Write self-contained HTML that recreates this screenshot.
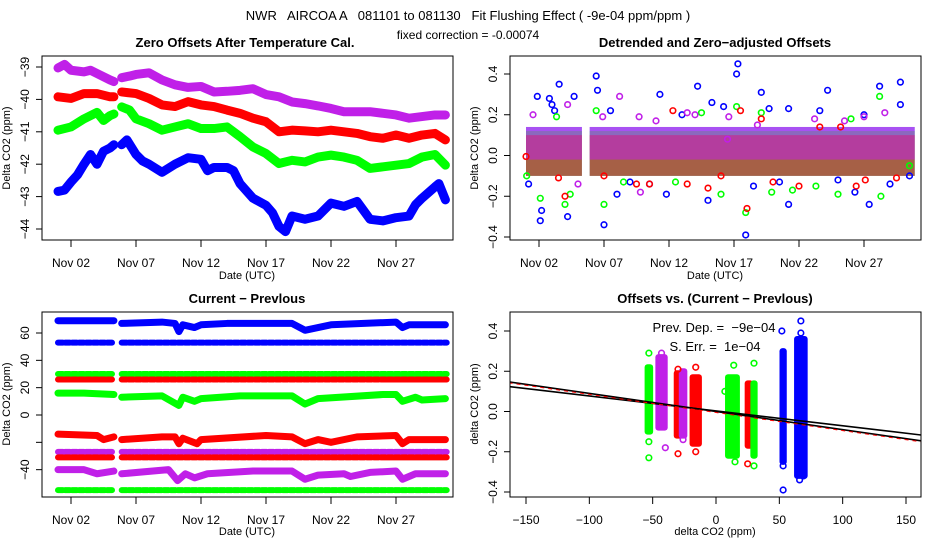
<!DOCTYPE html>
<html><head><meta charset="utf-8"><style>
body{margin:0;background:#fff}
svg{display:block;font-family:"Liberation Sans",sans-serif}
</style></head><body>
<svg id="c" width="936" height="540" viewBox="0 0 936 540">
<text x="468" y="20" font-size="13" text-anchor="middle" style="white-space:pre">NWR   AIRCOA A   081101 to 081130   Fit Flushing Effect ( -9e-04 ppm/ppm )</text>
<text x="468" y="39" font-size="12" text-anchor="middle">fixed correction = -0.00074</text>
</svg>
<script>
const p1PurpleDays=[1,1.5,2,3,3.5,4,5,5.3,null,5.9,6.5,7,8,9,10,11,12,13,14,15,16,17,18,19,20,21,22,23,24,25,26,27,28,29,30,30.8];
const p1PurpleVals=[-39.03,-38.92,-39.1,-39.15,-39.1,-39.2,-39.4,-39.45,null,-39.33,-39.28,-39.23,-39.18,-39.4,-39.55,-39.63,-39.6,-39.77,-39.75,-39.72,-39.67,-39.85,-39.92,-40.08,-40.13,-40.2,-40.28,-40.38,-40.38,-40.38,-40.43,-40.48,-40.58,-40.53,-40.48,-40.48];
const p1RedDays=[1,2,3,4,5,5.3,null,5.9,7,8,9,10,11,12,13,14,15,16,17,18,19,20,21,22,23,24,25,26,27,28,29,30,30.8];
const p1RedVals=[-39.92,-39.97,-39.82,-39.82,-39.92,-39.92,null,-39.77,-39.82,-39.97,-40.17,-40.22,-40.07,-40.17,-40.22,-40.33,-40.43,-40.58,-40.69,-41.0,-40.95,-40.97,-41.0,-40.95,-41.0,-41.05,-41.15,-41.2,-41.1,-41.2,-41.1,-41.05,-41.25];
const p1GreenDays=[1,2,3,4,4.5,5,5.3,null,5.9,6.5,7,8,9,10,11,12,13,14,15,16,17,18,19,20,21,22,23,24,25,26,27,28,29,30,30.8];
const p1GreenVals=[-40.95,-40.85,-40.6,-40.4,-40.65,-40.5,-40.45,null,-40.23,-40.33,-40.6,-40.75,-40.95,-40.85,-40.75,-40.9,-40.9,-40.85,-41.15,-41.47,-41.67,-41.98,-41.88,-41.93,-41.78,-41.72,-41.78,-41.88,-42.13,-42.08,-42.03,-41.98,-41.78,-41.7,-42.03];
const p1BlueDays=[1,1.5,2,2.5,3,3.5,4,4.5,5,5.3,null,5.9,6.3,7,7.5,8,9,10,11,12,12.5,13,14,14.5,15,16,17,17.5,18,18.5,19,20,21,22,23,24,25,26,27,28,28.5,29,30,30.3,30.8];
const p1BlueVals=[-42.84,-42.8,-42.55,-42.33,-42.0,-41.7,-42.0,-41.6,-41.5,-41.4,null,-41.4,-41.25,-41.7,-41.9,-42.0,-42.25,-42.0,-41.8,-41.85,-42.2,-42.1,-42.1,-42.2,-42.6,-43.05,-43.27,-43.5,-43.92,-44.08,-43.6,-43.7,-43.6,-43.2,-43.3,-43.15,-43.7,-43.75,-43.65,-43.6,-43.25,-43.05,-42.7,-42.6,-43.1];
const p1YTicks=[-39,-40,-41,-42,-43,-44];
const dateTicks=[2,7,12,17,22,27];
const dateLabels=["Nov 02","Nov 07","Nov 12","Nov 17","Nov 22","Nov 27"];

const p2Segments=[[1,5.3],[5.9,30.9]];
const p2CoreLo=[-0.1,-0.1,-0.1,-0.02];
const p2CoreHi=[0.14,0.12,0.1,0.14];
const p2BlueOutDays=[1.87,2.1,2.2,3.55,2.8,4.2,4.7,6.4,6.5,7.0,8.0,7.5,11.3,14.2,15.3,16.2,17.3,17.2,17.9,19.1,19.7,21.2,21.2,23.6,24.2,26.3,27.4,28.2,29.8,29.8,11.8,1.2,3.0,3.2,9.0,10.5,13,15,18.5,20.5,25,27,29,30.5];
const p2BlueOutVals=[0.29,-0.32,-0.27,0.35,0.28,-0.3,0.29,0.39,0.32,-0.34,-0.19,0.22,0.3,0.34,0.26,0.24,0.45,0.4,-0.39,0.31,0.23,-0.24,0.23,0.22,0.32,-0.18,-0.24,0.34,0.36,0.25,-0.19,-0.14,0.25,0.22,-0.13,-0.14,0.2,-0.22,-0.15,-0.13,-0.12,0.2,-0.14,-0.1];
const p2GreenOutDays=[3.35,6.4,7.0,2.1,4.0,4.4,17.2,17.9,19.1,19.9,25,28.2,28.3,1.05,23.3,14.5,8.5,12.5,16,21.5,26,30.5];
const p2GreenOutVals=[0.19,0.22,-0.24,-0.21,-0.24,-0.19,0.24,-0.28,0.21,-0.18,-0.19,0.29,-0.2,-0.1,-0.15,0.21,-0.13,-0.13,-0.19,-0.17,0.18,-0.05];
const p2RedOutDays=[4.0,12.3,17.5,18,19.1,22,26.4,1.0,13.4,15,23.6,25.2,27.1,3.5,7,9.5,10.5,16,20,29.5];
const p2RedOutVals=[-0.2,0.22,0.22,-0.26,0.18,-0.15,-0.15,-0.005,-0.14,-0.16,0.14,0.14,-0.12,-0.11,-0.1,-0.14,-0.14,-0.1,-0.13,-0.11];
const p2PurpleOutDays=[1.54,4.2,8.2,6.9,9.8,5.0,9.7,13.4,16.6,23.2,28.6,27,16.5,11,14,18.8,25.5];
const p2PurpleOutVals=[0.2,0.25,0.29,0.19,-0.18,-0.14,0.19,0.21,0.19,0.18,0.21,0.19,0.08,0.17,0.2,0.15,0.17];
const p2YTicks=[0.4,0.2,0.0,-0.2,-0.4];
const p2YLabels=["0.4","0.2","0.0","-0.2","-0.4"];

const p3Blue68Days=[1,5.3,null,5.9,9,10,10.3,10.6,11.5,12,14,19,20,21,22,27,27.5,28,30.8];
const p3Blue68Vals=[69,69,null,67,68,67,61,66,64,66,67,67,62,64,66,68,64,66,66];
const p3Green15Days=[1,3,5.3,null,5.9,9,10.3,10.6,11.5,12,15,19,20,21,26,27,27.5,28.5,29,30.8];
const p3Green15Vals=[16,16,15,null,13,14,7,13,10,12,14,14,8,12,15,15,10,13,11,12];
const p3RedM16Days=[1,4,4.5,5.3,null,5.9,9,10,10.3,10.6,11.7,12,17,19,20,21,22,24,27,27.5,28,30.8];
const p3RedM16Vals=[-14,-15,-18,-16,null,-18,-16,-16,-21,-17,-21,-18,-15,-16,-21,-18,-20,-16,-15,-21,-18,-18];
const p3PurpleM42Days=[1,3,4,5.3,null,5.9,9.5,10.2,10.8,11.5,12.5,16,19,20,21,23,23.5,25,27,27.5,28.5,30.8];
const p3PurpleM42Vals=[-40,-40,-43,-41,null,-43,-40,-48,-43,-46,-43,-41,-41,-47,-44,-43,-45,-42,-41,-47,-43,-43];
const p3FlatLevels=[53,30,26,-27,-31,-55];
const p3FlatColors=["blue","green","red","purple","red","green"];
const p3YTicks=[60,40,20,0,-20,-40];
const p3YLabels=["60","40","20","0","","-40"];

const p4ClusterX=[-53,-43,-30,-26,-16,13,26,30,53,67];
const p4ClusterLo=[-0.1,-0.08,-0.12,-0.12,-0.16,-0.22,-0.17,-0.22,-0.25,-0.32];
const p4ClusterHi=[0.22,0.27,0.19,0.2,0.17,0.17,0.14,0.14,0.3,0.36];
const p4ClusterW=[2,5,2,2,5,7,2,1,1,6];
const p4ClusterColors=["green","purple","red","purple","red","green","red","green","blue","blue"];
const p4OutX=[-53,-53,-53,-43,-40,-30,-30,-26,-16,-16,7,14,15,25,30,30,52,53,53,66,67,67,69];
const p4OutY=[0.29,-0.15,-0.23,0.29,-0.18,0.21,-0.21,-0.14,0.22,-0.2,0.1,0.23,-0.25,-0.26,0.24,-0.27,0.4,-0.27,-0.39,-0.34,0.39,0.45,-0.32];
const p4OutColors=["green","green","green","purple","purple","red","red","purple","red","red","green","green","green","red","green","green","blue","blue","blue","blue","blue","blue","blue"];
const p4Fit=[-0.0009,0.0];
const p4Fixed=[-0.00074,0.003];
const p4XTicks=[-150,-100,-50,0,50,100,150];
const p4YTicks=[0.4,0.2,0.0,-0.2,-0.4];

const COL={blue:"#0000ff",green:"#00ff00",red:"#ff0000",purple:"#c020e8"};
const NS="http://www.w3.org/2000/svg";
const svg=document.getElementById('c');
function mk(tag,attrs,parent){const e=document.createElementNS(NS,tag);for(const k in attrs)e.setAttribute(k,attrs[k]);(parent||svg).appendChild(e);return e;}
function txt(s,x,y,size,opts,parent){const e=mk('text',Object.assign({x:x,y:y,'font-size':size,'text-anchor':'middle'},opts||{}),parent);e.textContent=s;return e;}
function panel(name){
  const g=mk('g',{});
  
  
  return g;
}
function lin(d0,d1,r0,r1){return v=>r0+(v-d0)*(r1-r0)/(d1-d0);}
function frame(g,box){
  const r=mk('rect',{x:box[0],y:box[1],width:box[2]-box[0],height:box[3]-box[1],fill:'none',stroke:'#000','stroke-width':1},g);
  
  
}
function yAxis(g,box,ys,ticks,labels){
  const ax=mk('g',{},g);
  
  
  const ya=ticks.map(ys);
  mk('line',{x1:box[0],x2:box[0],y1:Math.min(...ya),y2:Math.max(...ya),stroke:'#000'},ax);
  ticks.forEach((t,i)=>{const y=ys(t);
    mk('line',{x1:box[0]-6,x2:box[0],y1:y,y2:y,stroke:'#000'},ax);
    const lab=labels?labels[i]:String(t);
    if(lab!=='') {const e=txt(lab.replace('-','\u2212'),box[0]-13,y,12,{transform:`rotate(-90 ${box[0]-13} ${y})`},ax);
    
    }
  });
}
function xAxis(g,box,xs,ticks,labels){
  const ax=mk('g',{},g);
  
  
  const xa=ticks.map(xs);
  mk('line',{x1:Math.min(...xa),x2:Math.max(...xa),y1:box[3],y2:box[3],stroke:'#000'},ax);
  ticks.forEach((t,i)=>{const x=xs(t);
    mk('line',{x1:x,x2:x,y1:box[3],y2:box[3]+7,stroke:'#000'},ax);
    const e=txt(labels?labels[i]:String(t).replace('-','\u2212'),x,box[3]+27,12,{},ax);
    
    
  });
}
function band(g,days,vals,xs,ys,color,w,dash,name){
  let segs=[],cur=[];
  days.forEach((d,i)=>{if(d===null){segs.push(cur);cur=[];}else cur.push([xs(d),ys(vals[i])]);});
  segs.push(cur);
  segs.forEach(s=>{
    const p=mk('polyline',{points:s.map(q=>q.join(',')).join(' '),fill:'none',stroke:COL[color],'stroke-width':w,'stroke-linejoin':'round','stroke-linecap':'round'},g);
    if(dash)p.setAttribute('stroke-dasharray',dash);
    
    
  });
}
function circ(g,x,y,color,name){
  const c=mk('circle',{cx:x,cy:y,r:2.8,fill:'none',stroke:COL[color],'stroke-width':1.6},g);
  
  
}

(function(){
  const box=[42,56,453,240];
  const xs=lin(1,2,58,71),ys=lin(-39,-44,67,229);
  const g=panel('zero-offsets-panel');
  band(g,p1PurpleDays,p1PurpleVals,xs,ys,'purple',9,null,'series-purple');
  band(g,p1RedDays,p1RedVals,xs,ys,'red',9,null,'series-red');
  band(g,p1GreenDays,p1GreenVals,xs,ys,'green',9,null,'series-green');
  band(g,p1BlueDays,p1BlueVals,xs,ys,'blue',9,null,'series-blue');
  frame(g,box);yAxis(g,box,ys,p1YTicks);xAxis(g,box,xs,dateTicks,dateLabels);
  let t=txt('Zero Offsets After Temperature Cal.',245,47,13,{'font-weight':'bold'},g);
  t=txt('Date (UTC)',247,279,11,{},g);
  t=txt('Delta CO2 (ppm)',10,148,11,{transform:'rotate(-90 10 148)'},g);
})();

(function(){
  const box=[510,56,921,240];
  const xs=lin(1,2,526,539),ys=lin(0,0.4,155.5,74);
  const g=panel('detrended-panel');
  const colors=['blue','green','red','purple'];
  const ops=[0.45,0.45,0.5,0.55];
  colors.forEach((c,i)=>p2Segments.forEach(s=>{
    const r=mk('rect',{x:xs(s[0]),y:ys(p2CoreHi[i]),width:xs(s[1])-xs(s[0]),height:ys(p2CoreLo[i])-ys(p2CoreHi[i]),fill:COL[c],opacity:ops[i]},g);
    
    
  }));
  p2BlueOutDays.forEach((d,i)=>circ(g,xs(d),ys(p2BlueOutVals[i]),'blue','point-blue'));
  p2GreenOutDays.forEach((d,i)=>circ(g,xs(d),ys(p2GreenOutVals[i]),'green','point-green'));
  p2RedOutDays.forEach((d,i)=>circ(g,xs(d),ys(p2RedOutVals[i]),'red','point-red'));
  p2PurpleOutDays.forEach((d,i)=>circ(g,xs(d),ys(p2PurpleOutVals[i]),'purple','point-purple'));
  frame(g,box);yAxis(g,box,ys,p2YTicks,p2YLabels);xAxis(g,box,xs,dateTicks,dateLabels);
  let t=txt('Detrended and Zero\u2212adjusted Offsets',715,47,13,{'font-weight':'bold'},g);
  t=txt('Date (UTC)',715,279,11,{},g);
  t=txt('Delta CO2 (ppm)',478,148,11,{transform:'rotate(-90 478 148)'},g);
})();

(function(){
  const box=[42,312,453,497];
  const xs=lin(1,2,58,71),ys=lin(0,60,415,333);
  const g=panel('current-minus-previous-panel');
  p3FlatLevels.forEach((v,i)=>{
    band(g,[1,5.3,null,5.9,30.9],[v,v,null,v,v],xs,ys,p3FlatColors[i],6,'5 2','flat-series-'+p3FlatColors[i]);
  });
  band(g,p3Blue68Days,p3Blue68Vals,xs,ys,'blue',7,null,'series-blue-68');
  band(g,p3Green15Days,p3Green15Vals,xs,ys,'green',7,null,'series-green-15');
  band(g,p3RedM16Days,p3RedM16Vals,xs,ys,'red',7,null,'series-red-16');
  band(g,p3PurpleM42Days,p3PurpleM42Vals,xs,ys,'purple',7,null,'series-purple-42');
  frame(g,box);yAxis(g,box,ys,p3YTicks,p3YLabels);xAxis(g,box,xs,dateTicks,dateLabels);
  let t=txt('Current \u2212 Prevlous',247,303,13,{'font-weight':'bold'},g);
  t=txt('Date (UTC)',247,535,11,{},g);
  t=txt('Delta CO2 (ppm)',10,404,11,{transform:'rotate(-90 10 404)'},g);
})();

(function(){
  const box=[510,312,921,497];
  const xs=lin(0,150,716,906),ys=lin(0,0.4,411.5,331);
  const g=panel('offsets-vs-difference-panel');
  p4ClusterX.forEach((x,i)=>{
    const r=mk('rect',{x:xs(x-p4ClusterW[i]/2)-3,y:ys(p4ClusterHi[i])-3,width:xs(x+p4ClusterW[i]/2)-xs(x-p4ClusterW[i]/2)+6,height:ys(p4ClusterLo[i])-ys(p4ClusterHi[i])+6,fill:COL[p4ClusterColors[i]],rx:3},g);
    
    
  });
  p4OutX.forEach((x,i)=>circ(g,xs(x),ys(p4OutY[i]),p4OutColors[i],'outlier-point'));
  const cg=mk('g',{'clip-path':'url(#c4)'},g);
  mk('clipPath',{id:'c4'},g);document.getElementById('c4').appendChild(mk('rect',{x:box[0],y:box[1],width:box[2]-box[0],height:box[3]-box[1]}));
  const x0=-170,x1=170;
  let l=mk('line',{x1:xs(x0),y1:ys(p4Fixed[0]*x0+p4Fixed[1]),x2:xs(x1),y2:ys(p4Fixed[0]*x1+p4Fixed[1]),stroke:'#000','stroke-width':1.6},cg);
  
  l=mk('line',{x1:xs(x0),y1:ys(p4Fit[0]*x0+p4Fit[1]),x2:xs(x1),y2:ys(p4Fit[0]*x1+p4Fit[1]),stroke:'#000','stroke-width':1.6},cg);
  
  l=mk('line',{x1:xs(x0),y1:ys(p4Fit[0]*x0+p4Fit[1])+1,x2:xs(x1),y2:ys(p4Fit[0]*x1+p4Fit[1])+1,stroke:'#ff0000','stroke-width':1,'stroke-dasharray':'4 4'},cg);
  
  frame(g,box);yAxis(g,box,ys,p4YTicks,["0.4","0.2","0.0","-0.2","-0.4"]);xAxis(g,box,xs,p4XTicks);
  let t=txt('Offsets vs. (Current \u2212 Prevlous)',715,303,13,{'font-weight':'bold'},g);
  t=txt('delta CO2 (ppm)',715,535,11,{},g);
  t=txt('delta CO2 (ppm)',478,404,11,{transform:'rotate(-90 478 404)'},g);
  t=txt('Prev. Dep. =  \u22129e\u221204',714,332,13,{style:'white-space:pre'},g);
  t=txt('S. Err. =  1e\u221204',715,351,13,{style:'white-space:pre'},g);
})();
</script>
</body></html>
